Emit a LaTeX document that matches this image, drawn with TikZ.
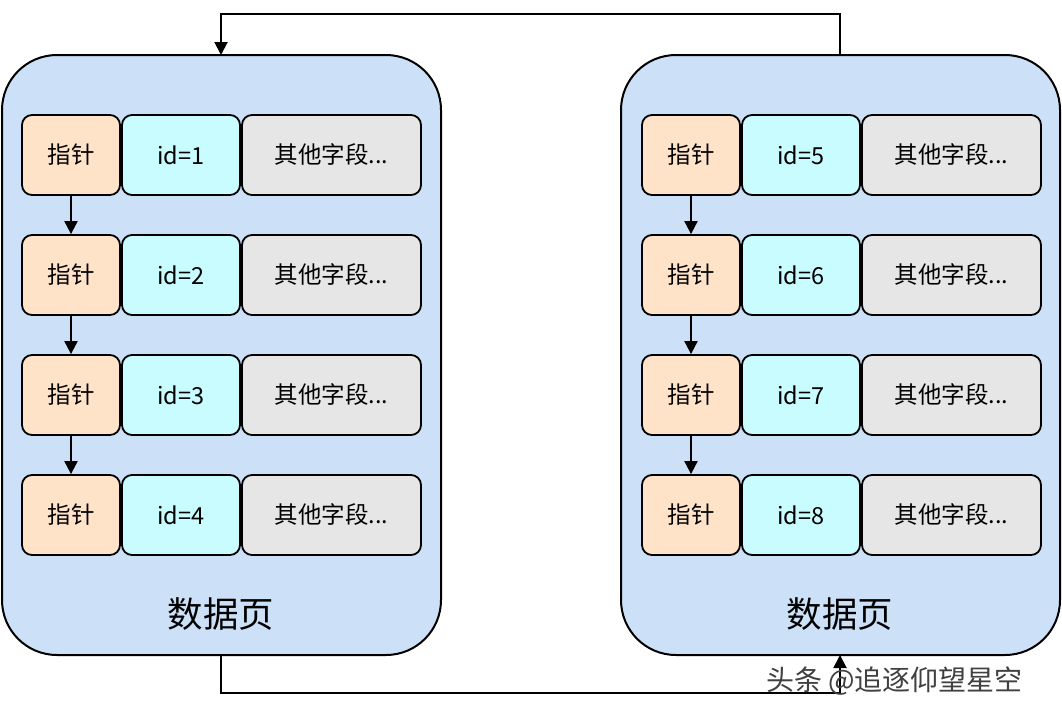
\documentclass[tikz,border=0pt]{standalone}
\usepackage{fontspec}
\setmainfont{Noto Sans CJK SC}
\usetikzlibrary{arrows.meta}
\definecolor{pagefill}{HTML}{CCE1F8}
\definecolor{ptrfill}{HTML}{FFE3C9}
\definecolor{idfill}{HTML}{C9FCFF}
\definecolor{othfill}{HTML}{E6E6E6}
\begin{document}
\begin{tikzpicture}[x=1pt,y=-1pt,
  page/.style={draw=black,line width=2pt,fill=pagefill,rounded corners=55pt},
  cell/.style={draw=black,line width=1.8pt,rounded corners=10pt,minimum height=80pt,inner sep=0pt,font=\fontsize{23.5}{26}\selectfont},
  ptr/.style={cell,fill=ptrfill,minimum width=98pt},
  idc/.style={cell,fill=idfill,minimum width=118pt},
  oth/.style={cell,fill=othfill,minimum width=179pt},
  tip/.style={-{Triangle[length=13pt,width=13pt]}},
  arr/.style={line width=2pt,tip},
  conn/.style={line width=2pt},
  title/.style={font=\fontsize{35.5}{40}\selectfont}]
\useasboundingbox (0,0) rectangle (1062,712);
\fill[white] (0,0) rectangle (1062,712);
% pages
\draw[page] (2,55) rectangle (441,655);
\draw[page] (621,55) rectangle (1060,655);
\coordinate (Ltop) at (221,55);
\coordinate (Lbot) at (221,655);
\coordinate (Rtop) at (840,55);
\coordinate (Rbot) at (840,655);
\node[title] (Lt) at (221,614) {数据页};
\node[title] (Rt) at (840,614) {数据页};
% rows
\foreach \r/\y in {1/155,2/275,3/395,4/515}{
  \node[ptr] (lp\r) at (71,\y) {指针};
  \node[idc] (li\r) at (181,\y) {id=\r};
  \node[oth] (lo\r) at (331.5,\y) {其他字段...};
}
\foreach \r/\y/\n in {1/155/5,2/275/6,3/395/7,4/515/8}{
  \node[ptr] (rp\r) at (691,\y) {指针};
  \node[idc] (ri\r) at (801,\y) {id=\n};
  \node[oth] (ro\r) at (951.5,\y) {其他字段...};
}
\foreach \a/\b in {1/2,2/3,3/4}{
  \draw[arr] (lp\a.south) -- (lp\b.north);
  \draw[arr] (rp\a.south) -- (rp\b.north);
}
% connectors between pages
\draw[conn,tip] (Rtop) -- (840,14) -- (221,14) -- (Ltop);
\draw[conn,tip] (Lbot) -- (221,693) -- (840,693) -- (Rbot);
% watermark
\node[font=\fontsize{28}{32}\selectfont,text=black!75,anchor=west,inner sep=0pt] (wm) at (766,681) {头条 @追逐仰望星空};
\end{tikzpicture}
\end{document}
